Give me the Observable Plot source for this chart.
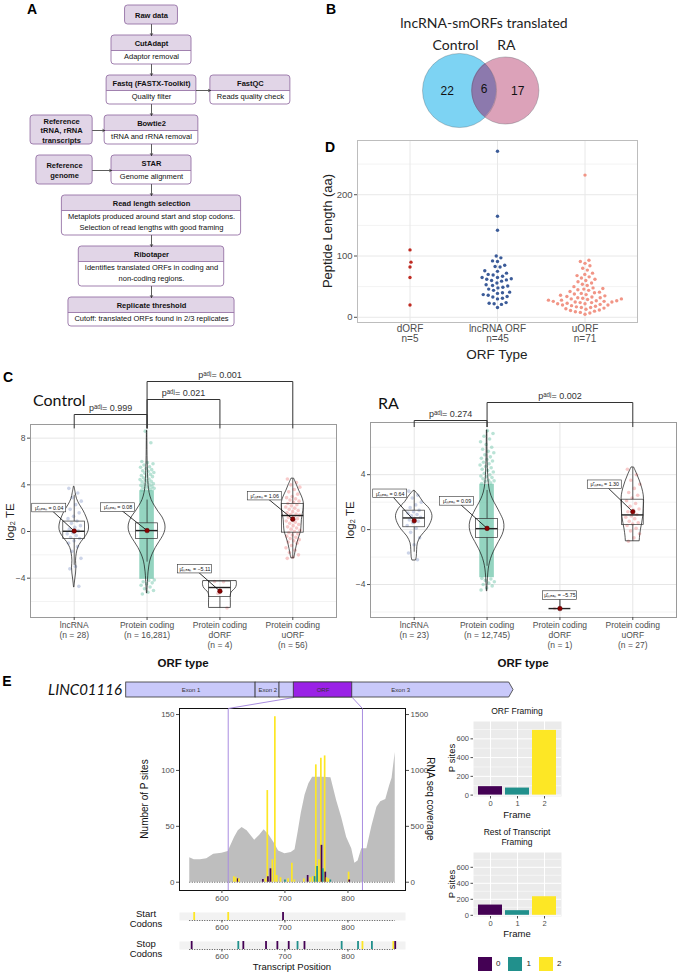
<!DOCTYPE html>
<html><head><meta charset="utf-8">
<script src="https://cdn.jsdelivr.net/npm/d3@7"></script>
<script src="https://cdn.jsdelivr.net/npm/@observablehq/plot@0.6"></script>
<style>
body{margin:0;background:#fff;}
#root{position:relative;width:680px;height:977px;overflow:hidden;background:#fff;}
</style></head><body><div id="root"></div>
<script>
// ======================= DATA =======================
// A: analysis pipeline
const pipelineSteps = [
  {title: "Raw data", desc: []},
  {title: "CutAdapt", desc: ["Adaptor removal"]},
  {title: "Fastq (FASTX-Toolkit)", desc: ["Quality filter"]},
  {title: "Bowtie2", desc: ["tRNA and rRNA removal"]},
  {title: "STAR", desc: ["Genome alignment"]},
  {title: "Read length selection", desc: ["Metaplots produced around start and stop codons.", "Selection of read lengths with good framing"]},
  {title: "Ribotaper", desc: ["Identifies translated ORFs in coding and", "non-coding regions."]},
  {title: "Replicate threshold", desc: ["Cutoff: translated ORFs found in 2/3 replicates"]}
];
const pipelineSide = [
  {step: 2, side: "right", title: ["FastQC"], desc: ["Reads quality check"]},
  {step: 3, side: "left", title: ["Reference", "tRNA, rRNA", "transcripts"], desc: []},
  {step: 4, side: "left", title: ["Reference", "genome"], desc: []}
];
// B: Venn
const vennSets = ["Control", "RA"];
const vennOnly = [22, 17];
const vennShared = 6;
// D: peptide lengths
const orfTypes = ["dORF", "lncRNA ORF", "uORF"];
const dORFLength = [110, 90, 82, 65, 20];
const lncLength = [271, 165, 142, 100, 97, 92, 91, 85, 83, 82, 76, 75, 72, 70, 69, 67, 65, 65, 63, 62, 61, 60, 59, 56, 53, 52, 51, 49, 48, 46, 44, 41, 40, 39, 37, 36, 34, 33, 31, 30, 24, 23, 22, 21, 16];
const uORFLength = [232, 93, 91, 88, 84, 80, 77, 72, 70, 68, 66, 64, 62, 60, 58, 56, 54, 52, 50, 48, 47, 46, 45, 44, 42, 41, 40, 39, 38, 37, 36, 35, 34, 33, 32, 32, 31, 30, 30, 29, 28, 28, 27, 27, 26, 26, 25, 25, 24, 24, 23, 22, 22, 21, 20, 20, 19, 18, 17, 16, 16, 15, 14, 13, 12, 11, 10, 9, 8, 7, 5];
// C: translational efficiency
const teTypes = ["lncRNA", "Protein coding", "Protein coding\ndORF", "Protein coding\nuORF"];
const ctrlN = [28, 16281, 4, 56];
const raN = [23, 12745, 1, 27];
const ctrlMeans = [0.04, 0.08, -5.11, 1.06];
const raMeans = [0.64, 0.09, -5.75, 1.30];
// [min, q1, median, q3, max]
const ctrlBoxes = [[-4.7, -0.65, 0.02, 0.85, 3.7], [-5.3, -0.63, 0.08, 0.7, 8.6], [-6.55, -5.62, -4.8, -4.29, -4.28], [-2.3, -0.1, 1.37, 2.37, 4.5]];
const raBoxes = [[-2.25, 0.17, 0.85, 1.38, 2.8], [-4.5, -0.6, 0.07, 0.78, 7.2], [-5.75, -5.75, -5.75, -5.75, -5.75], [-0.85, 0.34, 1.07, 2.18, 4.5]];
// violin density profiles: [log2 TE, relative density]
const ctrlViolins = [
  [[3.8,0.02],[3.3,0.08],[2.8,0.15],[2.3,0.3],[1.8,0.5],[1.2,0.68],[0.6,0.8],[0.1,0.8],[-0.4,0.65],[-0.9,0.4],[-1.4,0.22],[-1.9,0.14],[-2.5,0.1],[-3.1,0.12],[-3.6,0.1],[-4.2,0.05],[-4.8,0.01]],
  [[8.6,0.01],[7.0,0.02],[6.0,0.03],[5.0,0.05],[4.0,0.08],[3.3,0.14],[2.7,0.25],[2.2,0.42],[1.7,0.62],[1.2,0.85],[0.6,1.0],[0.1,1.0],[-0.4,0.88],[-0.9,0.68],[-1.4,0.48],[-1.9,0.32],[-2.4,0.2],[-2.9,0.13],[-3.5,0.08],[-4.2,0.05],[-5.3,0.01]],
  [[-4.28,0.92],[-4.6,0.93],[-4.9,0.85],[-5.15,0.68],[-5.4,0.6],[-6.0,0.6],[-6.55,0.6]],
  [[4.5,0.08],[4.0,0.22],[3.5,0.35],[3.0,0.5],[2.5,0.6],[2.0,0.6],[1.5,0.55],[1.0,0.5],[0.5,0.48],[0.0,0.45],[-0.5,0.35],[-1.0,0.25],[-1.5,0.18],[-2.0,0.12],[-2.3,0.08]]
];
const raViolins = [
  [[2.8,0.05],[2.4,0.3],[2.0,0.5],[1.5,0.85],[1.0,1.0],[0.5,0.92],[0.0,0.7],[-0.5,0.38],[-1.0,0.2],[-1.5,0.16],[-2.0,0.14],[-2.25,0.1]],
  [[7.2,0.01],[6.0,0.02],[5.0,0.03],[4.0,0.06],[3.3,0.1],[2.7,0.18],[2.2,0.32],[1.7,0.52],[1.2,0.72],[0.6,0.92],[0.1,0.95],[-0.4,0.85],[-0.9,0.65],[-1.4,0.45],[-1.9,0.28],[-2.4,0.16],[-2.9,0.09],[-3.5,0.05],[-4.5,0.01]],
  [],
  [[4.5,0.08],[4.0,0.25],[3.5,0.4],[3.0,0.52],[2.5,0.6],[2.0,0.62],[1.5,0.6],[1.0,0.58],[0.5,0.52],[0.0,0.45],[-0.5,0.4],[-0.85,0.38]]
];
// individual ORFs (protein coding: only the sparse tails; the dense core is ctrlDense / raDense)
const ctrlPoints = [
  [3.7, 3.3, 2.9, 2.6, 2.3, 1.9, 1.6, 1.3, 1.1, 0.9, 0.7, 0.5, 0.35, 0.2, 0.05, -0.1, -0.2, -0.35, -0.5, -0.6, -0.8, -1.0, -1.3, -1.7, -2.3, -3.0, -3.2, -4.7],
  [3.55, 3.6, 3.65, 3.7, 3.75, 3.8, 3.85, 3.9, 3.95, 4.0, 4.05, 4.1, 4.2, 4.25, 4.3, 4.4, 4.45, 4.5, 4.6, 4.7, 4.75, 4.8, 4.9, 5.0, 5.05, 5.15, 5.2, 5.3, 5.4, 5.5, 5.55, 5.7, 5.8, 5.9, 6.0, 7.6, 8.6, -4.15, -4.2, -4.3, -4.4, -4.5, -4.6, -4.75, -4.9, -5.05, -5.2, -5.35],
  [-4.28, -4.3, -5.31, -6.55],
  [4.5, 4.2, 4.0, 3.8, 3.6, 3.4, 3.2, 3.0, 2.9, 2.8, 2.7, 2.6, 2.5, 2.4, 2.3, 2.2, 2.1, 2.0, 1.9, 1.8, 1.7, 1.6, 1.5, 1.45, 1.4, 1.3, 1.2, 1.1, 1.0, 0.9, 0.8, 0.7, 0.6, 0.5, 0.4, 0.3, 0.2, 0.1, 0.0, -0.1, -0.2, -0.3, -0.4, -0.5, -0.6, -0.7, -0.8, -0.9, -1.0, -1.2, -1.4, -1.6, -1.8, -2.0, -2.2, -2.3]
];
const raPoints = [
  [2.8, 2.5, 2.3, 2.0, 1.8, 1.6, 1.4, 1.3, 1.2, 1.1, 1.0, 0.9, 0.8, 0.7, 0.6, 0.5, 0.3, 0.1, -0.2, -0.6, -1.1, -1.7, -2.2],
  [3.35, 3.4, 3.5, 3.55, 3.6, 3.7, 3.8, 3.85, 3.9, 4.0, 4.1, 4.2, 4.3, 4.4, 4.5, 4.6, 4.7, 4.8, 4.9, 5.0, 5.1, 5.2, 5.3, 5.45, 5.6, 5.7, 5.85, 6.0, 6.2, 6.4, 6.6, 6.8, 7.0, 7.2, -3.55, -3.6, -3.7, -3.8, -3.9, -4.0, -4.1, -4.25, -4.4],
  [-5.75],
  [4.4, 4.0, 3.6, 3.3, 3.0, 2.7, 2.5, 2.3, 2.1, 1.9, 1.7, 1.5, 1.4, 1.3, 1.1, 1.0, 0.9, 0.8, 0.6, 0.5, 0.4, 0.3, 0.1, -0.1, -0.3, -0.6, -0.85]
];
const ctrlDense = [-4.1, 3.5];
const raDense = [-3.5, 3.3];
const ctrlTests = [{a: 1, b: 2, p: "0.999"}, {a: 2, b: 3, p: "0.021"}, {a: 2, b: 4, p: "0.001"}];
const raTests = [{a: 1, b: 2, p: "0.274"}, {a: 2, b: 4, p: "0.002"}];
// E: LINC01116
const geneName = "LINC01116";
const transcriptExons = [{name: "Exon 1", start: 1, end: 471}, {name: "Exon 2", start: 472, end: 559}, {name: "Exon 3", start: 560, end: 1410}];
const orfRange = [610, 823];
const rnaCoverage = [[549,220],[556,200],[566,200],[576,210],[587,250],[600,260],[610,275],[620,400],[626,460],[632,490],[640,460],[652,375],[660,420],[667,470],[675,420],[683,350],[690,280],[700,255],[710,265],[716,290],[721,450],[726,620],[732,780],[738,880],[744,940],[760,940],[773,935],[782,730],[790,580],[798,400],[806,300],[811,170],[816,190],[822,300],[830,300],[838,500],[846,670],[852,720],[860,740],[866,860],[870,930],[875,1160]];
// [position, frame, P sites]
const pSites = [[619,2,5],[622,2,4],[625,0,3],[627,2,3],[665,0,2.5],[669,2,3],[672,2,82],[673,0,5],[677,0,12],[680,2,20],[684,2,148],[687,2,6],[693,2,4],[700,1,2],[705,2,3],[711,2,17],[715,2,2],[730,2,3],[736,0,6],[740,2,4],[744,2,5],[747,1,5],[749,2,105],[751,1,14],[754,2,20],[757,2,111],[758,0,33],[760,1,12],[763,2,113],[764,0,9],[766,2,4],[769,2,3],[772,1,2],[801,2,9],[802,0,2]];
const startCodons = [[556,2],[610,2],[697,0]];
const stopCodons = [[552,0],[626,1],[634,0],[670,0],[688,0],[706,0],[720,1],[731,0],[790,1],[816,1],[823,2],[838,1],[872,2],[875,0]];
const frames = [0, 1, 2];
const orfFraming = [90, 75, 690];
const restFraming = [128, 58, 232];

// ======================= HELPERS =======================
const FF = "'Liberation Sans', Arial, Helvetica, sans-serif";
const LATO = "Lato, 'Open Sans', sans-serif";
const root = document.getElementById("root");
const baseStyle = {fontFamily: FF, background: "transparent", overflow: "visible"};
function mount(el, left, top) {
  el.style.position = "absolute"; el.style.left = left + "px"; el.style.top = top + "px";
  root.appendChild(el); return el;
}
function label(text, x, y, o = {}) {
  const d = document.createElement("div");
  d.textContent = text;
  const s = d.style;
  s.position = "absolute"; s.left = x + "px"; s.top = y + "px";
  s.whiteSpace = "pre"; s.lineHeight = String(o.lh || 1.1);
  s.fontSize = (o.size || 10) + "px"; s.fontFamily = o.family || FF;
  s.fontWeight = o.weight || "normal"; s.fontStyle = o.style || "normal";
  s.color = o.color || "#000"; s.textAlign = "center";
  const ax = o.anchor === "start" ? "0%" : "-50%";
  s.transform = `translate(${ax}, -50%) rotate(${o.rotate || 0}deg)`;
  root.appendChild(d);
}
const ctx = document.createElement("canvas").getContext("2d");
function tw(t, font) { ctx.font = font; return ctx.measureText(t).width; }
const frameColors = ["#440154", "#21908c", "#fde725"];

// panel letters
[["A", 32, 10], ["B", 331, 10], ["D", 330, 148], ["C", 8, 378], ["E", 7, 682]].forEach(([t, x, y]) => label(t, x, y, {size: 14, weight: "bold"}));

// ======================= A: pipeline =======================
{
  const HEAD = 15, LINE = 11, GAP = 11, CX = 151;
  const fB = `bold 7.5px ${FF}`, fR = `7.5px ${FF}`;
  const LAV = "#e1d5e7", STK = "#9673a6";
  let yy = 5;
  const mainBoxes = pipelineSteps.map(s => {
    const n = s.desc.length;
    const h = n ? HEAD + 3 + LINE * n : 19;
    const w = n ? Math.max(80, Math.max(tw(s.title, fB), ...s.desc.map(t => tw(t, fR))) + 12) : tw(s.title, fB) + 20;
    const b = {x1: CX - w / 2, x2: CX + w / 2, y1: yy, y2: yy + h, title: s.title, desc: s.desc};
    yy += h + GAP;
    return b;
  });
  const leftEdge = d3.min(pipelineSide.filter(s => s.side === "left"), s => mainBoxes[s.step].x1) - 12;
  const sideBoxes = pipelineSide.map(s => {
    const m = mainBoxes[s.step];
    const w = s.desc.length ? Math.max(80, Math.max(...s.title.map(t => tw(t, fB)), ...s.desc.map(t => tw(t, fR))) + 12) : d3.max(s.title, t => tw(t, fB)) + 20;
    const x1 = s.side === "right" ? m.x2 + 14 : leftEdge - w;
    return {x1, x2: x1 + w, y1: m.y1, y2: m.y2, title: s.title.join("\n"), desc: s.desc};
  });
  const all = [...mainBoxes, ...sideBoxes];
  const withBody = all.filter(b => b.desc.length);
  const bodyLines = withBody.flatMap(b => b.desc.map((t, j) => ({x: (b.x1 + b.x2) / 2, y: b.y1 + HEAD + 6.5 + LINE * j, t})));
  const arrows = [];
  for (let i = 0; i < mainBoxes.length - 1; i++) arrows.push({x1: CX, y1: mainBoxes[i].y2, x2: CX, y2: mainBoxes[i + 1].y1});
  pipelineSide.forEach((s, i) => {
    const m = mainBoxes[s.step], b = sideBoxes[i], y = m.y1 + HEAD;
    arrows.push(s.side === "right" ? {x1: m.x2, y1: y, x2: b.x1, y2: y} : {x1: b.x2, y1: y, x2: m.x1, y2: y});
  });
  const flow = Plot.plot({
    width: 320, height: 335, margin: 0, style: baseStyle,
    x: {type: "identity", axis: null}, y: {type: "identity", axis: null},
    marks: [
      Plot.rect(all, {x1: "x1", x2: "x2", y1: "y1", y2: "y2", fill: d => d.desc.length ? "white" : LAV, rx: 3}),
      Plot.rect(withBody, {x1: "x1", x2: "x2", y1: "y1", y2: d => d.y1 + HEAD + 4, fill: LAV, rx: 3}),
      Plot.rect(withBody, {x1: "x1", x2: "x2", y1: d => d.y1 + HEAD, y2: d => d.y1 + HEAD + 4, fill: "white"}),
      Plot.rect(all, {x1: "x1", x2: "x2", y1: "y1", y2: "y2", fill: "none", stroke: STK, strokeWidth: 0.9, rx: 3}),
      Plot.ruleY(withBody, {y: d => d.y1 + HEAD, x1: "x1", x2: "x2", stroke: STK, strokeWidth: 0.9}),
      Plot.arrow(arrows, {x1: "x1", y1: "y1", x2: "x2", y2: "y2", stroke: "#333", strokeWidth: 0.8, headLength: 4}),
      Plot.text(all, {x: d => (d.x1 + d.x2) / 2, y: d => d.desc.length ? d.y1 + HEAD / 2 : (d.y1 + d.y2) / 2, text: "title", fontWeight: "bold", fontSize: 7.5, lineHeight: 1.27, fill: "#111"}),
      Plot.text(bodyLines, {x: "x", y: "y", text: "t", fontSize: 7.5, fill: "#111"})
    ]
  });
  mount(flow, 0, 0);
}

// ======================= B: Venn =======================
{
  label("lncRNA-smORFs translated", 484, 23, {size: 14, family: LATO, color: "#222"});
  const K = 7;
  const nA = vennOnly[0] + vennShared, nB = vennOnly[1] + vennShared;
  const rA = K * Math.sqrt(nA), rB = K * Math.sqrt(nB);
  function lensArea(d, r1, r2) {
    if (d >= r1 + r2) return 0;
    if (d <= Math.abs(r1 - r2)) return Math.PI * Math.min(r1, r2) ** 2;
    const a1 = Math.acos((d * d + r1 * r1 - r2 * r2) / (2 * d * r1));
    const a2 = Math.acos((d * d + r2 * r2 - r1 * r1) / (2 * d * r2));
    return r1 * r1 * a1 + r2 * r2 * a2 - 0.5 * Math.sqrt((-d + r1 + r2) * (d + r1 - r2) * (d - r1 + r2) * (d + r1 + r2));
  }
  const target = Math.PI * K * K * vennShared;
  let lo = Math.abs(rA - rB), hi = rA + rB;
  for (let i = 0; i < 60; i++) { const mid = (lo + hi) / 2; if (lensArea(mid, rA, rB) > target) lo = mid; else hi = mid; }
  const dAB = (lo + hi) / 2;
  const cy = 60, cxA = 22 + rA, cxB = cxA + dAB;
  const lx0 = cxB - rB, lx1 = cxA + rA;
  const lensRows = d3.range(0, 81).map(i => {
    const x = lx0 + (lx1 - lx0) * i / 80;
    const h = Math.min(Math.sqrt(Math.max(0, rA * rA - (x - cxA) ** 2)), Math.sqrt(Math.max(0, rB * rB - (x - cxB) ** 2)));
    return {x, y1: cy - h, y2: cy + h};
  });
  const nums = [
    {x: ((cxA - rA) + (cxB - rB)) / 2, y: cy + 1, t: String(vennOnly[0])},
    {x: (lx0 + lx1) / 2, y: cy - 1, t: String(vennShared)},
    {x: ((cxA + rA) + (cxB + rB)) / 2, y: cy + 1, t: String(vennOnly[1])}
  ];
  const setLabels = [{x: cxA - 4, t: vennSets[0]}, {x: cxB + 1, t: vennSets[1]}];
  const venn = Plot.plot({
    width: 170, height: 110, margin: 0, style: baseStyle,
    x: {type: "identity", axis: null}, y: {type: "identity", axis: null},
    marks: [
      Plot.dot([0], {x: cxA, y: cy, r: rA, fill: "#7dd3f3"}),
      Plot.dot([0], {x: cxB, y: cy, r: rB, fill: "#dca2b9"}),
      Plot.areaY(lensRows, {x: "x", y1: "y1", y2: "y2", fill: "#8c79ad"}),
      Plot.dot([0], {x: cxA, y: cy, r: rA, fill: "none", stroke: "#4a5560", strokeOpacity: 0.45, strokeWidth: 0.7}),
      Plot.dot([0], {x: cxB, y: cy, r: rB, fill: "none", stroke: "#4a5560", strokeOpacity: 0.45, strokeWidth: 0.7}),
      Plot.text(nums, {x: "x", y: "y", text: "t", fontSize: 12, fill: "#111"}),
      Plot.text(setLabels, {x: "x", y: cy - Math.max(rA, rB) - 8, text: "t", fontSize: 14, fontFamily: LATO, fill: "#222"})
    ]
  });
  mount(venn, 400, 30);
}

// ======================= D: peptide length =======================
{
  const W = 335, H = 230, ML = 47, MR = 8, MT = 10, MB = 38;
  const yDom = [-8.5, 288.5];
  const pxX = (W - ML - MR) / 3.2, pxY = (H - MT - MB) / (yDom[1] - yDom[0]);
  const cols = ["#bf2b22", "#3b5b98", "#f19586"];
  function swarm(values, diam) {
    const idx = d3.range(values.length).sort((a, b) => values[a] - values[b]);
    const placed = [], out = new Array(values.length);
    for (const i of idx) {
      const y = values[i] * pxY;
      const cands = [0];
      for (const p of placed) {
        const dy = Math.abs(p.y - y);
        if (dy < diam) { const dx = Math.sqrt(diam * diam - dy * dy); cands.push(p.x + dx, p.x - dx); }
      }
      cands.sort((a, b) => Math.abs(a) - Math.abs(b));
      let x = 0;
      for (const c of cands) { if (placed.every(p => (p.x - c) ** 2 + (p.y - y) ** 2 >= diam * diam - 1e-6)) { x = c; break; } }
      placed.push({x, y}); out[i] = x;
    }
    return out;
  }
  const groups = [dORFLength, lncLength, uORFLength];
  const rows = groups.flatMap((vals, g) => { const off = swarm(vals, 5); return vals.map((v, i) => ({g, v, x: g + 1 + off[i] / pxX})); });
  const ns = groups.map(v => v.length);
  const pd = Plot.plot({
    width: W, height: H, marginLeft: ML, marginRight: MR, marginTop: MT, marginBottom: MB, style: baseStyle,
    x: {domain: [0.4, 3.6]}, y: {domain: yDom},
    marks: [
      Plot.gridY([50, 150, 250], {stroke: "#f3f3f3", strokeOpacity: 1}),
      Plot.gridY([0, 100, 200], {stroke: "#e8e8e8", strokeOpacity: 1}),
      Plot.gridX([1, 2, 3], {stroke: "#e8e8e8", strokeOpacity: 1}),
      Plot.frame({stroke: "#bdbdbd"}),
      Plot.dot(rows, {x: "x", y: "v", r: 1.7, fill: d => cols[d.g]}),
      Plot.axisY({ticks: [0, 100, 200], tickSize: 3, tickPadding: 2, fontSize: 9.5, color: "#4d4d4d", label: null}),
      Plot.axisX({ticks: [1, 2, 3], tickFormat: i => `${orfTypes[i - 1]}\nn=${ns[i - 1]}`, tickSize: 0, tickPadding: 2, fontSize: 10, lineHeight: 1.05, color: "#4d4d4d", label: null})
    ]
  });
  mount(pd, 310, 130);
  label("Peptide Length (aa)", 328, 231, {size: 13, rotate: -90, color: "#222"});
  label("ORF Type", 497, 355, {size: 13.5, color: "#222"});
}

// ======================= C: TE violins =======================
function tePanel(cfg) {
  const {width, height, ml, mr, mt, mb, yDomain, ticks, minor, violins, boxes, points, dense, means, ns, tests, tiers, nudges} = cfg;
  const VW = 0.25, BW = 0.15, JW = 0.1;
  const pxX = (width - ml - mr) / 4.2;
  const pxY = (height - mt - mb) / (yDomain[1] - yDomain[0]);
  const top = yDomain[1];
  const ptColors = ["#8da0cb", "#66c2a5", "#e9969a", "#f08a8a"];
  const violinRows = violins.flatMap((v, i) => v.map(([y, d]) => ({cat: i + 1, y, x1: i + 1 - d * VW, x2: i + 1 + d * VW})));
  const boxRows = boxes.map(([mn, q1, md, q3, mx], i) => { const iqr = q3 - q1; return {cat: i + 1, q1, md, q3, wlo: Math.max(mn, q1 - 1.5 * iqr), whi: Math.min(mx, q3 + 1.5 * iqr)}; });
  const ptRows = points.flatMap((arr, i) => arr.map((v, j) => ({cat: i + 1, v, x: i + 1 + (((j * 0.6180339887 + 0.13) % 1) - 0.5) * 2 * JW})));
  const denseRows = [{cat: 2, lo: dense[0], hi: dense[1]}];
  const fmt = d3.format(".2f");
  const meanRows = means.map((m, i) => ({cat: i + 1, m, lx: i + 1 + nudges[i][0] / pxX, ly: m - nudges[i][1] / pxY, text: `μ̂ₘₑₐₙ = ${fmt(m)}`}));
  const brRows = tests.flatMap((t, k) => { const yb = top + tiers[k] / pxY, yl = top - 0.3; return [{k, x: t.a, y: yl}, {k, x: t.a, y: yb}, {k, x: t.b, y: yb}, {k, x: t.b, y: yl}]; });
  const brText = tests.map((t, k) => ({x: (t.a + t.b) / 2, y: top + tiers[k] / pxY, text: `pᵃᵈʲ= ${t.p}`}));
  return Plot.plot({
    width, height, marginLeft: ml, marginRight: mr, marginTop: mt, marginBottom: mb, style: baseStyle,
    x: {domain: [0.4, 4.6]}, y: {domain: yDomain},
    marks: [
      Plot.gridY(minor, {stroke: "#f3f3f3", strokeOpacity: 1}),
      Plot.gridY(ticks, {stroke: "#e6e6e6", strokeOpacity: 1}),
      Plot.gridX([1, 2, 3, 4], {stroke: "#e6e6e6", strokeOpacity: 1}),
      Plot.frame({stroke: "#9a9a9a"}),
      Plot.dot(ptRows, {x: "x", y: "v", r: 1.8, fill: d => ptColors[d.cat - 1], fillOpacity: 0.45}),
      Plot.rect(denseRows, {x1: d => d.cat - JW, x2: d => d.cat + JW, y1: "lo", y2: "hi", fill: ptColors[1], fillOpacity: 0.7}),
      Plot.areaX(violinRows, {y: "y", x1: "x1", x2: "x2", z: "cat", fill: "none", stroke: "#111", strokeWidth: 0.7, curve: "catmull-rom"}),
      Plot.ruleX(boxRows, {x: "cat", y1: "q3", y2: "whi", stroke: "#222", strokeWidth: 0.7}),
      Plot.ruleX(boxRows, {x: "cat", y1: "wlo", y2: "q1", stroke: "#222", strokeWidth: 0.7}),
      Plot.rect(boxRows, {x1: d => d.cat - BW, x2: d => d.cat + BW, y1: "q1", y2: "q3", fill: "none", stroke: "#333", strokeWidth: 0.7}),
      Plot.ruleY(boxRows, {y: "md", x1: d => d.cat - BW, x2: d => d.cat + BW, stroke: "#222", strokeWidth: 1.4}),
      Plot.link(meanRows, {x1: "lx", y1: "ly", x2: "cat", y2: "m", stroke: "#000", strokeWidth: 0.8}),
      Plot.dot(meanRows, {x: "cat", y: "m", r: 2.3, fill: "#8b0000", stroke: "#4a0000", strokeWidth: 0.5}),
      Plot.rect(meanRows, {x1: d => d.lx - 17 / pxX, x2: d => d.lx + 17 / pxX, y1: d => d.ly - 4.3 / pxY, y2: d => d.ly + 4.3 / pxY, fill: "white", stroke: "#333", strokeWidth: 0.6}),
      Plot.text(meanRows, {x: "lx", y: "ly", text: "text", fontSize: 5.3, fill: "#111"}),
      Plot.line(brRows, {x: "x", y: "y", z: "k", stroke: "#333", strokeWidth: 1}),
      Plot.text(brText, {x: "x", y: "y", text: "text", dy: -6, fontSize: 9, fill: "#333"}),
      Plot.axisY({ticks, tickSize: 3, tickPadding: 2, fontSize: 8.5, color: "#4d4d4d", label: null}),
      Plot.axisX({ticks: [1, 2, 3, 4], tickFormat: i => `${teTypes[i - 1]}\n(n = ${d3.format(",")(ns[i - 1])})`, tickSize: 3, tickPadding: 1, fontSize: 8.5, lineHeight: 1.15, color: "#4d4d4d", label: null})
    ]
  });
}
mount(tePanel({width: 340, height: 305, ml: 30, mr: 4, mt: 59, mb: 53, yDomain: [-7.37, 9.17], ticks: [-4, 0, 4, 8], minor: [-6, -2, 2, 6],
  violins: ctrlViolins, boxes: ctrlBoxes, points: ctrlPoints, dense: ctrlDense, means: ctrlMeans, ns: ctrlN, tests: ctrlTests,
  tiers: [10, 25, 43], nudges: [[-25, -23], [-29, -23], [-25, -22], [-28, -23]]}), 0, 365);
mount(tePanel({width: 340, height: 305, ml: 30, mr: 4, mt: 57, mb: 53, yDomain: [-6.4, 7.8], ticks: [-4, 0, 4], minor: [-6, -2, 2, 6],
  violins: raViolins, boxes: raBoxes, points: raPoints, dense: raDense, means: raMeans, ns: raN, tests: raTests,
  tiers: [2, 20], nudges: [[-24, -27], [-30, -27], [0, -13], [-28, -27]]}), 340, 365);
label("Control", 33, 400, {size: 16, family: LATO, anchor: "start", color: "#111"});
label("RA", 378, 403, {size: 16, family: LATO, anchor: "start", color: "#111"});
label("log₂ TE", 10, 522, {size: 11.5, rotate: -90, color: "#222"});
label("log₂ TE", 350, 520, {size: 11.5, rotate: -90, color: "#222"});
label("ORF type", 183, 663, {size: 11.5, weight: "bold", color: "#111"});
label("ORF type", 523, 663, {size: 11.5, weight: "bold", color: "#111"});

// ======================= E: LINC01116 =======================
{
  label(geneName, 85, 689, {size: 15, family: LATO, style: "italic", color: "#111"});
  const pMax = d3.max(pSites, d => d[2]);
  const yDom = [-0.05 * pMax, 1.05 * pMax];
  const allPos = [...rnaCoverage.map(d => d[0]), ...pSites.map(d => d[0]), ...startCodons.map(d => d[0]), ...stopCodons.map(d => d[0])];
  const [pLo, pHi] = d3.extent(allPos);
  const xDom = [pLo - 0.05 * (pHi - pLo), pHi + 0.05 * (pHi - pLo)];
  const covFactor = 10;
  const tickX = [600, 700, 800];
  const sorted = [...pSites].sort((a, b) => b[2] - a[2]);
  const main = Plot.plot({
    width: 330, height: 210, marginLeft: 59, marginRight: 45, marginTop: 8, marginBottom: 20, style: baseStyle,
    x: {domain: xDom}, y: {domain: yDom},
    marks: [
      Plot.areaY(rnaCoverage, {x: d => d[0], y: d => d[1] / covFactor, fill: "#bebebe"}),
      Plot.ruleY([0], {x1: pLo, x2: pHi, stroke: "#222", strokeDasharray: "1,1.5", strokeWidth: 0.8}),
      Plot.ruleX(sorted, {x: d => d[0], y1: 0, y2: d => d[2], stroke: d => frameColors[d[1]], strokeWidth: 1.7}),
      Plot.ruleX(orfRange, {stroke: "#a98de0", strokeWidth: 1}),
      Plot.frame({stroke: "#111"}),
      Plot.axisY({ticks: [0, 50, 100, 150], tickSize: 3, tickPadding: 2, fontSize: 8, color: "#4d4d4d", label: null}),
      Plot.axisY({anchor: "right", ticks: [0, 50, 100, 150], tickFormat: d => String(d * covFactor), tickSize: 3, tickPadding: 2, fontSize: 8, color: "#4d4d4d", label: null}),
      Plot.axisX({ticks: tickX, tickSize: 3, tickPadding: 2, fontSize: 8, color: "#4d4d4d", label: null})
    ]
  });
  mount(main, 120, 700);

  function track(data, top) {
    const t = Plot.plot({
      width: 330, height: 27, marginLeft: 59, marginRight: 45, marginTop: 4, marginBottom: 15, style: baseStyle,
      x: {domain: xDom}, y: {domain: [0, 1], axis: null},
      marks: [
        Plot.frame({fill: "#f2f2f2", stroke: "none"}),
        Plot.ruleY([0], {x1: pLo, x2: pHi, stroke: "#222", strokeDasharray: "1,1.5", strokeWidth: 0.8}),
        Plot.ruleX(data, {x: d => d[0], y1: 0, y2: 1, stroke: d => frameColors[d[1]], strokeWidth: 1.8}),
        Plot.axisX({ticks: tickX, tickSize: 2.5, tickPadding: 1.5, fontSize: 8, color: "#4d4d4d", label: null})
      ]
    });
    mount(t, 120, top);
  }
  track(startCodons, 908);
  track(stopCodons, 937);

  // transcript schematic
  const geneLen = d3.max(transcriptExons, d => d.end);
  const last = transcriptExons[transcriptExons.length - 1];
  const tip = geneLen * 0.011;
  const arrowPoly = [{x: last.start - 1, y1: 0, y2: 1}, {x: last.end - tip, y1: 0, y2: 1}, {x: last.end, y1: 0.5, y2: 0.5}];
  const exonLabels = transcriptExons.map(e => ({x: e === last ? orfRange[1] + 0.3 * (e.end - orfRange[1]) : (e.start + e.end) / 2, t: e.name}));
  exonLabels.push({x: (orfRange[0] + orfRange[1]) / 2, t: "ORF"});
  const GH = 35, GMT = 4, GMB = 16;
  const mxScale = main.scale("x");
  // gene scale used to convert main-plot pixels into transcript coordinates
  const gx = d3.scaleLinear([1, geneLen], [6, 400 - 7]);
  const frameTopGeneY = ((700 + 8 - 678) - (GH - GMB)) / (GMT - (GH - GMB));
  const connectors = orfRange.map(p => ({x1: p, y1: 0, x2: gx.invert(mxScale.apply(p)), y2: frameTopGeneY}));
  const gene = Plot.plot({
    width: 400, height: GH, marginLeft: 6, marginRight: 7, marginTop: GMT, marginBottom: GMB, style: baseStyle,
    x: {domain: [1, geneLen], axis: null}, y: {domain: [0, 1], axis: null},
    marks: [
      Plot.link(connectors, {x1: "x1", y1: "y1", x2: "x2", y2: "y2", stroke: "#a98de0", strokeWidth: 1}),
      Plot.rect(transcriptExons.slice(0, -1), {x1: d => d.start - 1, x2: "end", y1: 0, y2: 1, fill: "#c9c9fa", stroke: "#333", strokeWidth: 0.8}),
      Plot.areaY(arrowPoly, {x: "x", y1: "y1", y2: "y2", fill: "#c9c9fa", stroke: "#333", strokeWidth: 0.8}),
      Plot.rect([orfRange], {x1: d => d[0], x2: d => d[1], y1: 0, y2: 1, fill: "#9a22e6", stroke: "#333", strokeWidth: 0.8}),
      Plot.text(exonLabels, {x: "x", y: 0.5, text: "t", fontSize: 6, fill: "#333"})
    ]
  });
  mount(gene, 120, 678);

  label("Number of P sites", 144, 799, {size: 10, rotate: -90, color: "#111"});
  label("RNA seq coverage", 430, 799, {size: 10, rotate: 90, color: "#111"});
  label("Start\nCodons", 146, 919, {size: 9.5, color: "#111"});
  label("Stop\nCodons", 146, 949, {size: 9.5, color: "#111"});
  label("Transcript Position", 292, 967, {size: 9.5, color: "#111"});

  function framing(vals, top, height, mt, mb) {
    const rows = vals.map((v, i) => ({frame: frames[i], v}));
    const p = Plot.plot({
      width: 125, height, marginLeft: 33, marginRight: 4, marginTop: mt, marginBottom: mb, style: baseStyle,
      x: {type: "band", domain: frames, paddingInner: 0.1, paddingOuter: 0.15}, y: {domain: [-15, 785]},
      marks: [
        Plot.frame({fill: "#ebebeb", stroke: "none"}),
        Plot.gridY([100, 300, 500, 700], {stroke: "white", strokeOpacity: 1, strokeWidth: 0.5}),
        Plot.gridY([0, 200, 400, 600], {stroke: "white", strokeOpacity: 1, strokeWidth: 1}),
        Plot.gridX(frames, {stroke: "white", strokeOpacity: 1, strokeWidth: 1}),
        Plot.barY(rows, {x: "frame", y: "v", fill: d => frameColors[d.frame]}),
        Plot.axisY({ticks: [0, 200, 400, 600], tickSize: 2.5, tickPadding: 2, fontSize: 7.5, color: "#4d4d4d", label: null}),
        Plot.axisX({tickSize: 2.5, tickPadding: 1.5, fontSize: 7.5, color: "#4d4d4d", label: null})
      ]
    });
    mount(p, 440, top);
  }
  framing(orfFraming, 718, 100, 3, 22);
  framing(restFraming, 849, 88, 3, 21);
  label("ORF Framing", 517, 712, {size: 8.5, color: "#111"});
  label("Rest of Transcript\nFraming", 517, 838, {size: 8.5, color: "#111", lh: 1.15});
  label("P sites", 452, 758, {size: 9.5, rotate: -90, color: "#111"});
  label("P sites", 452, 884, {size: 9.5, rotate: -90, color: "#111"});
  label("Frame", 517, 815, {size: 9.5, color: "#111"});
  label("Frame", 517, 934, {size: 9.5, color: "#111"});

  const leg = Plot.legend({color: {type: "categorical", domain: frames.map(String), range: frameColors}, swatchSize: 14, style: {fontSize: "8px", fontFamily: FF, color: "#222"}});
  mount(leg, 478, 947);
}
</script></body></html>
